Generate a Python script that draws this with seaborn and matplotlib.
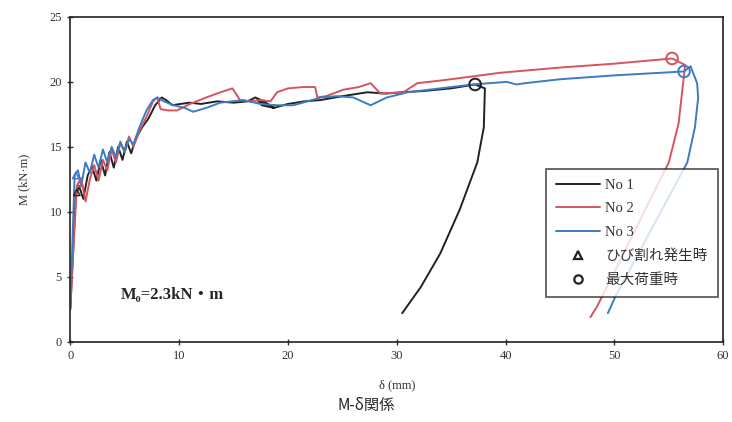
import numpy as np
import pandas as pd
import seaborn as sns
import matplotlib.pyplot as plt
from matplotlib.lines import Line2D

sns.set_style('ticks')
plt.rcParams['font.family'] = ['Liberation Serif', 'DejaVu Serif', 'Noto Sans CJK JP']

# --- data: deflection (mm) vs moment (kN*m) ---
no1_x = [0, 0.5, 0.8, 1.2, 1.6, 2.0, 2.4, 2.8, 3.2, 3.6, 4.0, 4.4, 4.8, 5.2, 5.6, 6.0,
         6.6, 7.2, 7.8, 8.4, 8.8, 9.4, 10.1, 11.0, 12.0, 13.5, 15.0, 16.3, 17.0, 17.8,
         18.7, 18.0, 17.2, 17.6, 18.7, 20.0, 21.5, 23.0, 25.0, 27.3, 29.0, 30.5, 32.5,
         35.0, 37.2, 38.1, 38.0, 37.4, 35.8, 34.0, 32.2, 30.5]
no1_y = [2.5, 11.2, 12.0, 11.0, 12.8, 13.5, 12.4, 14.0, 12.8, 14.6, 13.4, 15.0, 14.0,
         15.4, 14.5, 15.6, 16.5, 17.2, 18.2, 18.8, 18.6, 18.2, 18.3, 18.4, 18.3, 18.5,
         18.4, 18.5, 18.8, 18.5, 18.0, 18.3, 18.6, 18.2, 18.0, 18.3, 18.5, 18.6, 18.9,
         19.2, 19.1, 19.2, 19.3, 19.5, 19.8, 19.5, 16.5, 13.8, 10.2, 6.8, 4.2, 2.2]

no2_x = [0, 0.6, 1.0, 1.4, 1.8, 2.2, 2.6, 3.0, 3.4, 3.8, 4.2, 4.6, 5.0, 5.4, 5.8, 6.4,
         7.0, 7.6, 8.0, 8.3, 9.0, 9.8, 11.0, 12.5, 13.8, 14.9, 15.6, 16.5, 17.5, 18.4,
         19.0, 20.0, 21.4, 22.5, 22.7, 23.5, 25.1, 26.5, 27.6, 28.5, 30.6, 31.9, 34.0,
         36.8, 39.5, 45.0, 50.0, 55.3, 56.5, 55.9, 55.0, 48.4, 47.8]
no2_y = [2.5, 12.0, 12.6, 10.8, 12.5, 13.6, 12.4, 14.0, 13.2, 14.8, 13.8, 15.3, 14.6,
         15.8, 15.0, 16.3, 17.3, 18.5, 18.8, 17.9, 17.8, 17.8, 18.3, 18.8, 19.2, 19.5,
         18.6, 18.5, 18.6, 18.5, 19.2, 19.5, 19.6, 19.6, 18.8, 18.9, 19.4, 19.6, 19.9,
         19.1, 19.2, 19.9, 20.1, 20.4, 20.7, 21.1, 21.4, 21.8, 21.3, 16.8, 13.8, 2.7, 1.9]

no3_x = [0, 0.4, 0.7, 1.0, 1.4, 1.8, 2.2, 2.6, 3.0, 3.4, 3.8, 4.2, 4.6, 5.0, 5.4, 5.8,
         6.4, 7.0, 7.6, 8.0, 8.6, 9.5, 10.5, 11.3, 12.5, 13.8, 15.9, 17.5, 19.0, 20.5,
         21.8, 23.0, 24.5, 26.0, 27.6, 29.1, 31.0, 34.0, 37.0, 40.1, 41.0, 41.8, 45.0,
         50.0, 56.4, 57.0, 57.6, 57.7, 57.4, 56.7, 50.1, 49.4]
no3_y = [2.6, 12.8, 13.2, 12.0, 13.8, 13.0, 14.4, 13.4, 14.8, 13.8, 15.0, 14.2, 15.4,
         14.6, 15.6, 15.2, 16.6, 17.8, 18.6, 18.8, 18.5, 18.2, 18.0, 17.7, 18.0, 18.4,
         18.6, 18.3, 18.2, 18.2, 18.5, 18.8, 18.9, 18.8, 18.2, 18.8, 19.2, 19.5, 19.8,
         20.0, 19.8, 19.9, 20.2, 20.5, 20.8, 21.2, 19.9, 18.8, 16.5, 13.8, 3.5, 2.2]

# cracking points and maximum-load points
crack_x = [0.6, 0.9, 0.5]
crack_y = [11.5, 12.2, 12.8]
peak_x = [37.2, 55.3, 56.4]
peak_y = [19.8, 21.8, 20.8]

names = ['No 1', 'No 2', 'No 3']
colors = ['#222222', '#d4555e', '#3b7cc2']
xticks = [0, 10, 20, 30, 40, 50, 60]
yticks = [0, 5, 10, 15, 20, 25]

series = [(no1_x, no1_y), (no2_x, no2_y), (no3_x, no3_y)]

fig = plt.figure(figsize=(7.32, 4.22), dpi=100)
ax = fig.add_axes([0.096, 0.19, 0.892, 0.77])

for (xs, ys), name, c in zip(series, names, colors):
    df = pd.DataFrame({'d': xs, 'M': ys})
    sns.lineplot(data=df, x='d', y='M', sort=False, estimator=None, color=c,
                 linewidth=1.4, ax=ax)

for i, c in enumerate(colors):
    ax.scatter(crack_x[i], crack_y[i], marker='^', s=22, facecolor='none',
               edgecolor=c, linewidth=1.0, zorder=4)
    ax.scatter(peak_x[i], peak_y[i], marker='o', s=70, facecolor='none',
               edgecolor=c, linewidth=1.4, zorder=4)

ax.set_xlim(0, 60)
ax.set_ylim(0, 25)
ax.set_xticks(xticks)
ax.set_yticks(yticks)
ax.tick_params(direction='inout', length=5, width=1, labelsize=9, colors='#333333')
for s in ax.spines.values():
    s.set_color('#222222')
    s.set_linewidth(1.2)

ax.set_xlabel('δ (mm)', fontsize=9, color='#333333', labelpad=12)
ax.set_ylabel('M (kN·m)', fontsize=9, color='#333333', labelpad=14)
fig.text(0.5, 0.028, 'M-δ関係', ha='center', fontsize=11,
         family=['Noto Sans CJK JP', 'DejaVu Sans'])

ax.text(4.6, 3.3, 'M₀=2.3kN・m', fontsize=12, fontweight='bold',
        family=['Liberation Serif', 'DejaVu Serif', 'Noto Sans CJK JP'])

handles = [Line2D([], [], color=c, lw=1.4) for c in colors]
handles += [Line2D([], [], color='#222222', marker='^', ls='none', mfc='none', mew=1.6, ms=6),
            Line2D([], [], color='#222222', marker='o', ls='none', mfc='none', mew=1.6, ms=6)]
labels = names + ['ひび割れ発生時', '最大荷重時']
leg = ax.legend(handles, labels, loc='lower right', bbox_to_anchor=(0.992, 0.138),
                borderaxespad=0, frameon=True, fancybox=False, handlelength=3.0,
                labelspacing=0.7, borderpad=0.7, handletextpad=0.4,
                prop={'family': ['Liberation Serif', 'Noto Sans CJK JP'], 'size': 10.5})
leg.get_frame().set_edgecolor('#222222')
leg.get_frame().set_linewidth(1.2)
for t in leg.get_texts():
    t.set_color('#333333')

fig.savefig('out.png', dpi=100)
